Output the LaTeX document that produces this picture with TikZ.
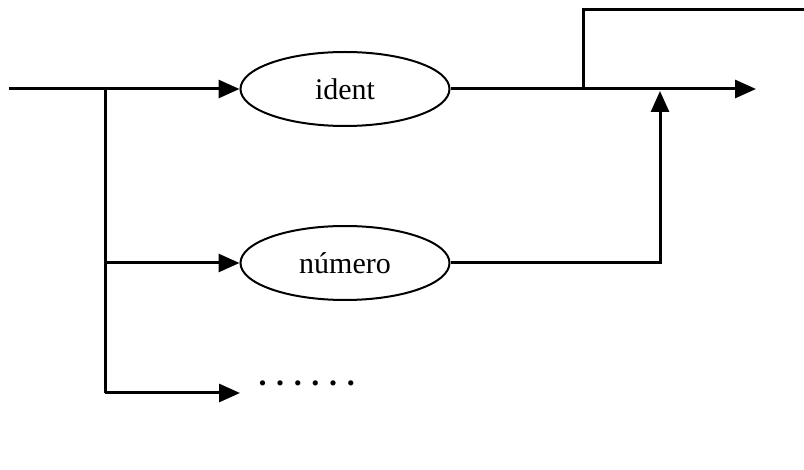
\documentclass[tikz,border=0pt]{standalone}
\usepackage{fontspec}
\setmainfont{Liberation Serif}
\usetikzlibrary{arrows.meta,shapes.geometric}

\begin{document}
\begin{tikzpicture}[x=1pt, y=-1pt, line width=3pt, >={Triangle[length=21pt,width=18pt]}]
\tikzset{
  termo/.style={draw, ellipse, line width=2pt, minimum width=209pt, minimum height=74pt,
    inner sep=0pt, font=\fontsize{30}{36}\selectfont},
}

\useasboundingbox (0,0) rectangle (804,470);

%%% Blocos

% ident
\node [termo] (ident) at (345,89) {ident};

% numero
\node [termo] (numero) at (345,263) {número};

% reticencias
\node [anchor=base west, inner sep=0pt, font=\fontsize{32}{36}\selectfont\bfseries] (resto) at (257,386) {\spaceskip=7pt . . . . . .};

%%% Pontos

\coordinate (ent)  at (9,89);
\coordinate (J1)   at (105,89);
\coordinate (J2)   at (105,263);
\coordinate (J3)   at (105,393);
\coordinate (seta3) at (240,393);
\coordinate (laco) at (583,89);
\coordinate (sai)  at (756,89);
\coordinate (topo) at (583,10);
\coordinate (fimtopo) at (804,10);
\coordinate (subida) at (660,263);
\coordinate (chega) at (660,91);

%%% Linhas

% entrada -> ident
\draw (ent) -- (J1);
\draw [->] (J1) -- (ident.west);

% ramo vertical
\draw (J1) -- (J3);
\draw [->] (J2) -- (numero.west);
\draw [->] (J3) -- (seta3);

% ident -> saida
\draw [->] (ident.east) -- (sai);

% laco de cima
\draw (laco) -- (topo) -- (fimtopo);

% numero -> saida
\draw [->] (numero.east) -- (subida) -- (chega);

\end{tikzpicture}
\end{document}
